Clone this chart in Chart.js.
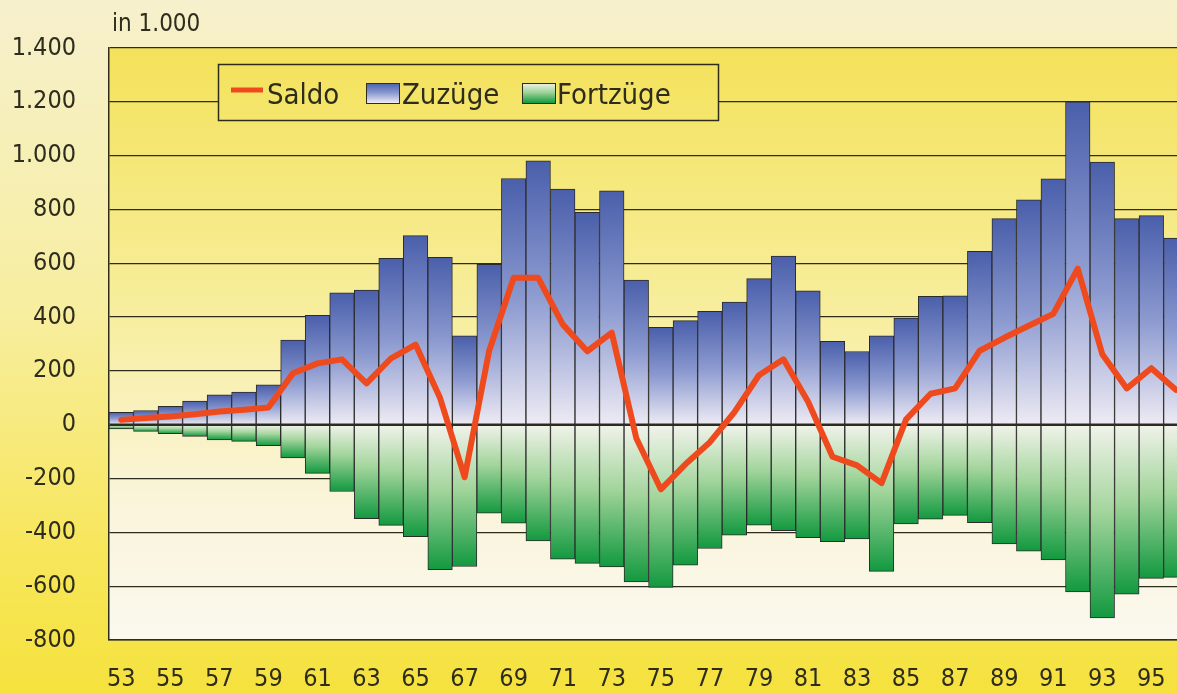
<!DOCTYPE html>
<html>
<head>
<meta charset="utf-8">
<script src="https://cdn.jsdelivr.net/npm/chart.js@4.4.1/dist/chart.umd.min.js"></script>
<style>
  html, body { margin: 0; padding: 0; overflow: hidden; width: 1177px; height: 694px; }
  body { background: linear-gradient(#f6f0cd 0%, #f7ee9f 45%, #f7e65a 80%, #f5e23e 100%); }
  #container { position: absolute; left: 0; top: 0; width: 1200px; height: 694px; }
</style>
</head>
<body>
<div id="container">
  <canvas id="myChart"></canvas>
</div>
<script>
// Jahre 1953 - 1996, Werte in 1.000
const years = ['53','54','55','56','57','58','59','60','61','62','63','64','65','66','67','68','69','70','71','72','73','74',
               '75','76','77','78','79','80','81','82','83','84','85','86','87','88','89','90','91','92','93','94','95','96']

const zuzuege = [46, 53, 68, 88, 111, 121, 148, 315, 407, 490, 500, 618, 703, 622, 330, 596, 915, 981, 876, 789, 869, 538,
                 362, 387, 421, 456, 543, 627, 498, 310, 272, 330, 396, 477, 479, 644, 766, 836, 914, 1200, 976, 766, 777, 694]

const fortzuege = [-16, -25, -33, -43, -56, -62, -78, -123, -181, -248, -349, -374, -416, -539, -527, -329, -366, -432, -500, -515, -528, -584,
                   -605, -522, -460, -410, -373, -394, -420, -435, -424, -545, -369, -351, -337, -364, -443, -470, -502, -621, -718, -630, -571, -567]

const saldo = [18, 25, 31, 39, 49, 56, 64, 191, 228, 243, 154, 247, 298, 99, -195, 275, 546, 546, 373, 273, 342, -50,
               -240, -147, -65, 47, 184, 243, 86, -119, -151, -217, 20, 115, 135, 275, 323, 368, 412, 580, 262, 135, 210, 130]

const yMin = -800
const yMax = 1400
const yStep = 200

const FONT = '"Liberation Sans Narrow", "Arial Narrow", "DejaVu Sans Condensed", sans-serif'
const INK = '#2e2c1c'

Chart.defaults.font.family = FONT
Chart.defaults.color = INK

const fmt = (v) => {
    const s = String(Math.abs(v)).replace(/\B(?=(\d{3})+(?!\d))/g, '.')
    return (v < 0 ? '-' : '') + s
}

const blueFill = (ctx, yTop, yBase) => {
    const g = ctx.createLinearGradient(0, yTop, 0, yBase)
    g.addColorStop(0, '#4a5fab')
    g.addColorStop(0.5, '#8c9ad0')
    g.addColorStop(1, '#eeebf4')
    return g
}
const greenFill = (ctx, yBase, yBottom) => {
    const g = ctx.createLinearGradient(0, yBase, 0, yBottom)
    g.addColorStop(0, '#f1f3ea')
    g.addColorStop(0.45, '#a3d59c')
    g.addColorStop(1, '#12993f')
    return g
}
const plotFill = (ctx, area) => {
    const g = ctx.createLinearGradient(0, area.top, 0, area.bottom)
    g.addColorStop(0, '#f4e25a')
    g.addColorStop(0.45, '#f7ee9e')
    g.addColorStop(0.75, '#faf4d8')
    g.addColorStop(1, '#fbf8ef')
    return g
}

const barColor = (kind) => (c) => {
    const chart = c.chart
    if (!chart.chartArea || c.raw === undefined) return kind === 'blue' ? '#6a7cc0' : '#4fb46a'
    const y = chart.scales.y
    const yv = y.getPixelForValue(c.raw)
    const y0 = y.getPixelForValue(0)
    return kind === 'blue' ? blueFill(chart.ctx, yv, y0) : greenFill(chart.ctx, y0, yv)
}

const backgroundPlugin = {
    id: 'plotBackground',
    beforeDraw(chart) {
        const { ctx, chartArea } = chart
        ctx.save()
        ctx.fillStyle = plotFill(ctx, chartArea)
        ctx.fillRect(chartArea.left, chartArea.top, chartArea.right - chartArea.left, chartArea.bottom - chartArea.top)
        ctx.restore()
    }
}

const legendPlugin = {
    id: 'boxLegend',
    afterDraw(chart) {
        const { ctx, chartArea } = chart
        const ds = chart.data.datasets
        ctx.save()
        // unit label
        ctx.font = '24px ' + FONT
        ctx.fillStyle = INK
        ctx.textBaseline = 'alphabetic'
        ctx.fillText('in 1.000', chartArea.left + 3, 31)

        // legend box
        const bx = 218, by = 64, bw = 500, bh = 56
        ctx.fillStyle = plotFill(ctx, chartArea)
        ctx.fillRect(bx, by, bw, bh)
        ctx.strokeStyle = INK
        ctx.lineWidth = 1.5
        ctx.strokeRect(bx + 0.5, by + 0.5, bw, bh)

        ctx.font = '29px ' + FONT
        ctx.fillStyle = INK
        const base = 104
        // Saldo
        ctx.strokeStyle = ds[0].borderColor
        ctx.lineWidth = 5
        ctx.beginPath()
        ctx.moveTo(231, 90)
        ctx.lineTo(263, 90)
        ctx.stroke()
        ctx.fillText(ds[0].label, 267, base)
        // Zuzuege
        ctx.fillStyle = blueFill(ctx, 83, 103)
        ctx.fillRect(366, 83, 33, 20)
        ctx.strokeStyle = INK
        ctx.lineWidth = 1
        ctx.strokeRect(366.5, 83.5, 33, 20)
        ctx.fillStyle = INK
        ctx.fillText(ds[1].label, 402, base)
        // Fortzuege
        ctx.fillStyle = greenFill(ctx, 83, 103)
        ctx.fillRect(522, 83, 33, 20)
        ctx.strokeRect(522.5, 83.5, 33, 20)
        ctx.fillStyle = INK
        ctx.fillText(ds[2].label, 557, base)
        ctx.restore()
    }
}

const myChart = document.getElementById('myChart').getContext('2d')

new Chart(myChart, {
    type: 'bar',
    data: {
        labels: years,
        datasets: [
            {
                type: 'line',
                label: 'Saldo',
                data: saldo,
                borderColor: '#ef4a1e',
                borderWidth: 6,
                borderJoinStyle: 'round',
                borderCapStyle: 'round',
                pointRadius: 0,
                tension: 0,
                fill: false,
                order: 0,
            },
            {
                label: 'Zuzüge',
                data: zuzuege,
                backgroundColor: barColor('blue'),
                borderColor: '#2b2b2b',
                borderWidth: 1,
                borderSkipped: false,
                grouped: false,
                categoryPercentage: 1,
                barPercentage: 1,
                order: 1,
            },
            {
                label: 'Fortzüge',
                data: fortzuege,
                backgroundColor: barColor('green'),
                borderColor: '#2b2b2b',
                borderWidth: 1,
                borderSkipped: false,
                grouped: false,
                categoryPercentage: 1,
                barPercentage: 1,
                order: 1,
            },
        ]
    },
    options: {
        responsive: true,
        maintainAspectRatio: false,
        animation: false,
        layout: { padding: { top: 47, right: 11, left: 0, bottom: 0 } },
        plugins: {
            legend: { display: false },
            tooltip: { enabled: false },
        },
        scales: {
            x: {
                grid: { display: false, drawTicks: false },
                border: { display: true, color: INK, width: 1.5 },
                ticks: {
                    autoSkip: false,
                    maxRotation: 0,
                    padding: 24,
                    font: { size: 25 },
                    color: INK,
                    callback: (v, i) => (i % 2 === 0 ? years[i] : ''),
                },
                afterFit: (scale) => { scale.height = 54 },
            },
            y: {
                min: yMin,
                max: yMax,
                grid: { color: INK, lineWidth: 1.2, drawTicks: false },
                border: { display: true, color: INK, width: 1.5 },
                ticks: {
                    stepSize: yStep,
                    padding: 33,
                    font: { size: 25 },
                    color: INK,
                    callback: (v) => fmt(v),
                },
                afterFit: (scale) => { scale.width = 109 },
            },
        },
    },
    plugins: [backgroundPlugin, legendPlugin],
})
</script>
</body>
</html>
